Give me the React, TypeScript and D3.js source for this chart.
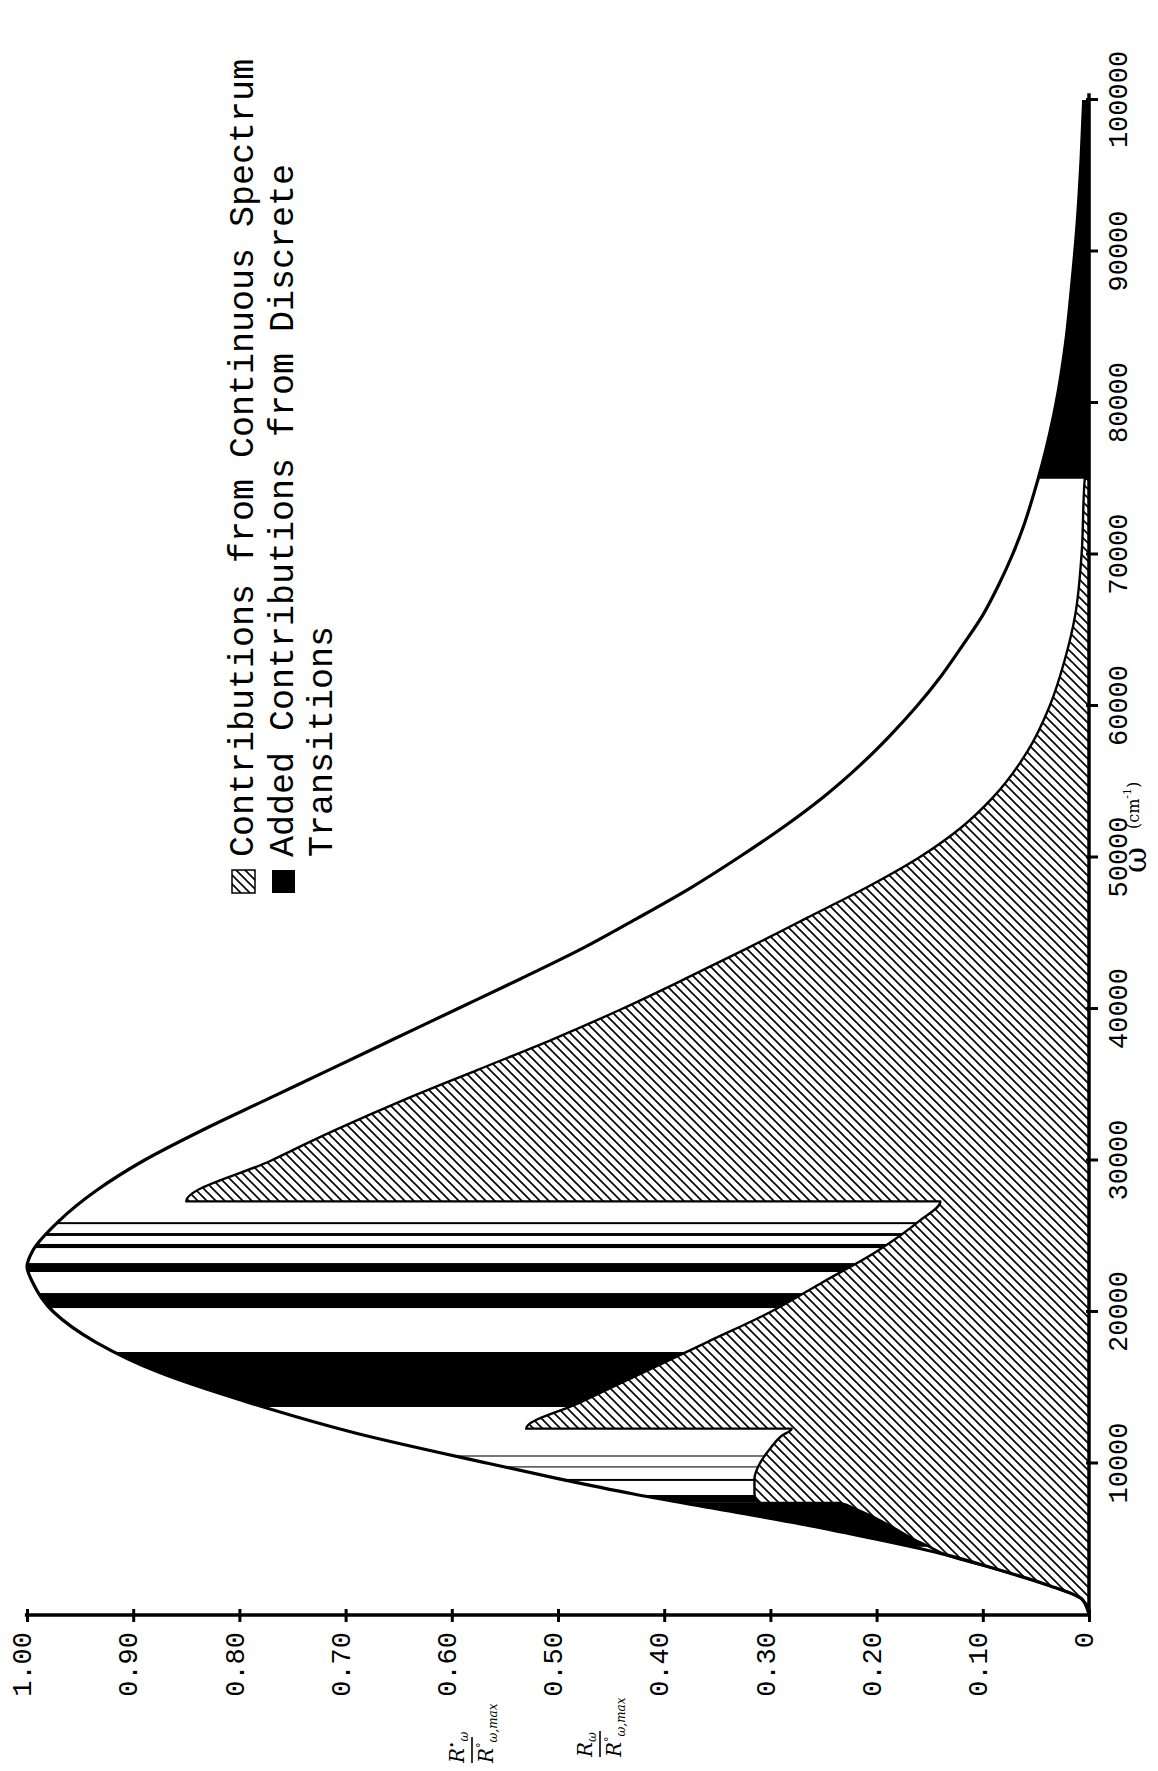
import React, { useEffect, useRef } from "react";
import * as d3 from "d3";

// Wavenumber ticks (cm^-1) along the spectral axis
const omegaTicks = [10000, 20000, 30000, 40000, 50000, 60000, 70000, 80000, 90000, 100000];
// Normalised intensity ticks
const valueTicks = [0, 0.1, 0.2, 0.3, 0.4, 0.5, 0.6, 0.7, 0.8, 0.9, 1.0];
const valueTickLabels = ["0", "0.10", "0.20", "0.30", "0.40", "0.50", "0.60", "0.70", "0.80", "0.90", "1.00"];

// Total (continuum + lines) normalised source function R°ω / R°ω,max
const totalOmega = [0, 1000, 2000, 3000, 4000, 5000, 6000, 7000, 8000, 9000, 10000, 12000, 14000, 16000, 18000, 20000, 22000, 23000, 24000, 26000, 28000, 30000, 32000, 34000, 36000, 38000, 40000, 42000, 44000, 46000, 48000, 50000, 52000, 54000, 56000, 58000, 60000, 62000, 64000, 66000, 68000, 70000, 72000, 74000, 76000, 78000, 80000, 84000, 88000, 92000, 96000, 100000];
const totalValue = [0, 0.006, 0.04, 0.086, 0.136, 0.2, 0.27, 0.35, 0.43, 0.5, 0.565, 0.69, 0.79, 0.875, 0.935, 0.975, 0.995, 1.0, 0.995, 0.97, 0.935, 0.89, 0.835, 0.775, 0.715, 0.655, 0.595, 0.535, 0.477, 0.425, 0.375, 0.33, 0.288, 0.25, 0.217, 0.188, 0.162, 0.139, 0.119, 0.1, 0.085, 0.072, 0.061, 0.052, 0.044, 0.037, 0.031, 0.022, 0.016, 0.011, 0.0075, 0.005];

// Continuum contribution Rω / R°ω,max (edges appear as repeated ω)
const contOmega = [0, 1000, 2000, 3000, 4000, 4500, 5000, 6000, 7000, 7400, 7400, 8000, 9000, 10000, 11000, 11800, 12300, 12300, 14000, 16000, 18000, 20000, 22000, 24000, 26000, 27300, 27300, 30000, 32000, 34000, 36000, 38000, 40000, 42000, 44000, 46000, 48000, 50000, 52000, 54000, 57000, 60000, 63000, 66000, 70000, 75000, 75000, 100000];
const contValue = [0, 0.006, 0.04, 0.086, 0.136, 0.15, 0.165, 0.19, 0.22, 0.235, 0.31, 0.315, 0.315, 0.31, 0.3, 0.29, 0.28, 0.53, 0.48, 0.42, 0.36, 0.3, 0.25, 0.2, 0.16, 0.14, 0.85, 0.77, 0.71, 0.645, 0.575, 0.505, 0.44, 0.38, 0.322, 0.266, 0.21, 0.16, 0.12, 0.09, 0.058, 0.037, 0.023, 0.013, 0.007, 0.004, 0, 0];

// Discrete-transition contributions, as ω intervals [start, end]
const lineBandStart = [4500, 7400, 8850, 9740, 10460, 13730, 20260, 22640, 24220, 25020, 25800, 75000];
const lineBandEnd = [7400, 7920, 8980, 9810, 10530, 17360, 21250, 23230, 24490, 25210, 25930, 100000];

const legendLabels = ["Contributions from Continuous Spectrum", "Added Contributions from Discrete", "Transitions"];

const W = 1158;
const H = 1771;
const ORIGIN_X = 1089;
const ORIGIN_Y = 1615;
const OMEGA_LEN = 1515;
const VALUE_LEN = 1062;

export default function App() {
  const ref = useRef<SVGSVGElement>(null);

  useEffect(() => {
    const svg = d3.select(ref.current);
    svg.selectAll("*").remove();

    const x = d3.scaleLinear().domain([0, 100000]).range([0, OMEGA_LEN]);
    const y = d3.scaleLinear().domain([0, 1]).range([0, -VALUE_LEN]);

    const total = totalOmega.map((w, i) => [w, totalValue[i]] as [number, number]);
    const cont = contOmega.map((w, i) => [w, contValue[i]] as [number, number]);

    const defs = svg.append("defs");
    const pat = defs
      .append("pattern")
      .attr("id", "hatch")
      .attr("patternUnits", "userSpaceOnUse")
      .attr("width", 9)
      .attr("height", 9);
    pat.append("rect").attr("width", 9).attr("height", 9).attr("fill", "#fff");
    pat
      .append("path")
      .attr("d", "M-1,10 L10,-1 M-3,3 L3,-3 M6,12 L12,6")
      .attr("stroke", "#000")
      .attr("stroke-width", 1.6);

    const totalArea = d3
      .area<[number, number]>()
      .x((d) => x(d[0]))
      .y0(0)
      .y1((d) => y(d[1]))
      .curve(d3.curveMonotoneX);
    const totalLine = d3
      .line<[number, number]>()
      .x((d) => x(d[0]))
      .y((d) => y(d[1]))
      .curve(d3.curveMonotoneX);

    // the plot is drawn with ω along local x and then turned a quarter turn
    const g = svg
      .append("g")
      .attr("transform", `translate(${ORIGIN_X},${ORIGIN_Y}) rotate(-90)`);

    const gdefs = g.append("defs");
    gdefs
      .append("clipPath")
      .attr("id", "under-total")
      .append("path")
      .attr("d", totalArea(total) as string);

    // discrete line contributions: filled between continuum and total
    g.append("g")
      .attr("clip-path", "url(#under-total)")
      .selectAll("rect")
      .data(lineBandStart.map((s, i) => [s, lineBandEnd[i]]))
      .join("rect")
      .attr("x", (d) => x(d[0]))
      .attr("width", (d) => x(d[1]) - x(d[0]))
      .attr("y", y(1.05))
      .attr("height", -y(1.05))
      .attr("fill", "#000");

    // continuum area (hatched)
    const contArea = d3
      .area<[number, number]>()
      .x((d) => x(d[0]))
      .y0(0)
      .y1((d) => y(d[1]))
      .curve(d3.curveMonotoneX);
    g.append("path").attr("d", contArea(cont) as string).attr("fill", "url(#hatch)");
    const contLine = d3
      .line<[number, number]>()
      .x((d) => x(d[0]))
      .y((d) => y(d[1]))
      .curve(d3.curveMonotoneX);
    g.append("path")
      .attr("d", contLine(cont) as string)
      .attr("fill", "none")
      .attr("stroke", "#000")
      .attr("stroke-width", 2.4)
      .attr("stroke-linejoin", "round");

    // total curve
    g.append("path")
      .attr("d", totalLine(total) as string)
      .attr("fill", "none")
      .attr("stroke", "#000")
      .attr("stroke-width", 3.2);

    // ω axis
    g.append("line")
      .attr("x1", 0)
      .attr("x2", x(100450))
      .attr("y1", 0)
      .attr("y2", 0)
      .attr("stroke", "#000")
      .attr("stroke-width", 3.5);
    const xAxis = g
      .append("g")
      .call(d3.axisBottom(x).tickValues(omegaTicks).tickSize(9).tickSizeOuter(0).tickFormat(d3.format("d")));
    xAxis.select(".domain").remove();
    xAxis.selectAll(".tick line").attr("y1", -3).attr("stroke", "#000").attr("stroke-width", 3);
    xAxis
      .selectAll(".tick text")
      .attr("y", 38)
      .attr("dy", null)
      .attr("fill", "#000")
      .style("font-family", "'Liberation Mono', 'DejaVu Sans Mono', monospace")
      .style("font-size", "27px");

    // intensity axis
    g.append("line")
      .attr("x1", 0)
      .attr("x2", 0)
      .attr("y1", 0)
      .attr("y2", y(1.002))
      .attr("stroke", "#000")
      .attr("stroke-width", 3.5);
    const yAxis = g
      .append("g")
      .call(
        d3
          .axisLeft(y)
          .tickValues(valueTicks)
          .tickSize(7)
          .tickSizeOuter(0)
          .tickFormat((d, i) => valueTickLabels[i])
      );
    yAxis.select(".domain").remove();
    yAxis.selectAll(".tick line").attr("x1", 6).attr("stroke", "#000").attr("stroke-width", 3);
    yAxis
      .selectAll(".tick text")
      .attr("x", -17)
      .attr("y", -5)
      .attr("fill", "#000")
      .style("font-family", "'Liberation Mono', 'DejaVu Sans Mono', monospace")
      .style("font-size", "27px");

    // axis title for ω
    g.append("text")
      .attr("x", 742)
      .attr("y", 57)
      .attr("fill", "#000")
      .style("font-family", "'DejaVu Serif', serif")
      .style("font-size", "32px")
      .text("ω");
    const wt = g
      .append("text")
      .attr("x", 786)
      .attr("y", 50)
      .attr("fill", "#000")
      .style("font-family", "'DejaVu Serif', serif");
    wt.append("tspan").style("font-size", "16px").text("(cm");
    wt.append("tspan").attr("dy", -8).style("font-size", "11px").text("-1");
    wt.append("tspan").attr("dy", 8).style("font-size", "16px").text(")");

    // intensity axis titles (fractions)
    const fraction = (gx: number, gy: number, numMark: string) => {
      const fg = g.append("g").attr("transform", `translate(${gx},${gy})`);
      const n = fg.append("text").attr("x", 0).attr("y", -8).attr("fill", "#000")
        .style("font-family", "'DejaVu Serif', serif").style("font-style", "italic");
      n.append("tspan").style("font-size", "20px").text("R");
      if (numMark) n.append("tspan").attr("dy", -8).style("font-size", "11px").text(numMark);
      n.append("tspan").attr("dy", numMark ? 12 : 4).style("font-size", "12px").text("ω");
      fg.append("line").attr("x1", 0).attr("x2", 26).attr("y1", 0).attr("y2", 0)
        .attr("stroke", "#000").attr("stroke-width", 1.6);
      const dn = fg.append("text").attr("x", 0).attr("y", 21).attr("fill", "#000")
        .style("font-family", "'DejaVu Serif', serif").style("font-style", "italic");
      dn.append("tspan").style("font-size", "20px").text("R");
      dn.append("tspan").attr("dy", -8).style("font-size", "11px").text("°");
      dn.append("tspan").attr("dy", 12).style("font-size", "12px").text("ω,max");
    };
    fraction(-148, -617, "•");
    fraction(-142, -489, "");

    // legend
    const lg = g.append("g").attr("transform", "translate(722,-857)");
    lg.append("rect").attr("x", 0).attr("y", 0).attr("width", 23).attr("height", 23)
      .attr("fill", "url(#hatch)").attr("stroke", "#000").attr("stroke-width", 1.5);
    lg.append("rect").attr("x", 0).attr("y", 40).attr("width", 23).attr("height", 23).attr("fill", "#000");
    const legendRows = [21, 61, 100];
    lg.selectAll("text.legend")
      .data(legendLabels)
      .join("text")
      .attr("class", "legend")
      .attr("x", 36)
      .attr("y", (d, i) => legendRows[i])
      .attr("fill", "#000")
      .style("font-family", "'Liberation Mono', 'DejaVu Sans Mono', monospace")
      .style("font-size", "35px")
      .text((d) => d);
  }, []);

  return (
    <svg
      ref={ref}
      width={W}
      height={H}
      viewBox={`0 0 ${W} ${H}`}
      style={{ position: "absolute", left: 0, top: 0, background: "#fff" }}
    />
  );
}
